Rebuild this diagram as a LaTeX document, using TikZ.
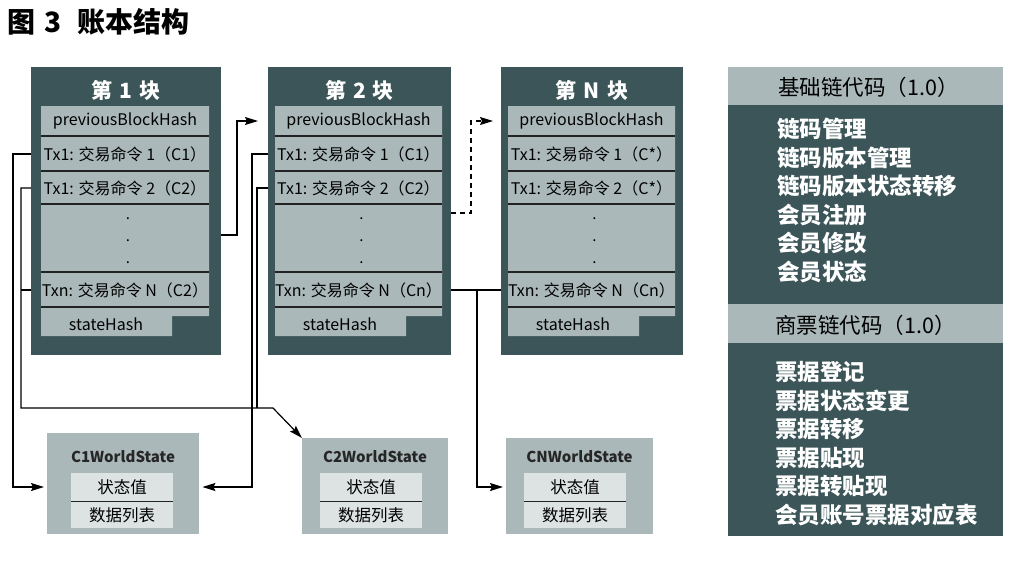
\documentclass[tikz,border=0pt]{standalone}
\usepackage{fontspec}
\setmainfont{Noto Sans CJK SC}
\usetikzlibrary{arrows.meta}
\definecolor{dkc}{HTML}{3C5558}
\definecolor{ltc}{HTML}{AAB8B9}
\definecolor{wsin}{HTML}{DDE2E2}
\definecolor{sepc}{HTML}{222222}
\tikzset{
  blk/.style={fill=dkc, draw=none, inner sep=0pt},
  blktitle/.style={text=white, inner sep=0pt, font=\bfseries\fontsize{21}{25}\selectfont},
  rowt/.style={text=black, inner sep=0pt, font=\fontsize{16}{19}\selectfont},
  dotn/.style={text=black, inner sep=0pt, font=\fontsize{15}{18}\selectfont},
  sep/.style={draw=sepc, line width=1.3pt},
  wsbg/.style={fill=ltc, draw=none, inner sep=0pt},
  wst/.style={text=black!85, inner sep=0pt, font=\bfseries\fontsize{15}{18}\selectfont},
  wsr/.style={text=black, inner sep=0pt, font=\fontsize{16.5}{19}\selectfont},
  hdr/.style={text=black, inner sep=0pt, font=\fontsize{21.5}{25}\selectfont},
  item/.style={text=white, inner sep=0pt, font=\bfseries\fontsize{22.5}{26}\selectfont},
  conn/.style={draw=black, line width=1.2pt},
  arr/.style={-{Stealth[length=13pt,width=8pt,inset=2pt]}},
}
\newcommand{\ledgerblock}[9]{%
  \node[blk, minimum width={#3-#2}, minimum height=288, anchor=north west] (#1) at (#2,67) {};
  \node[blktitle] (#1h) at ({(#2+#3)/2},90) {#6};
  \fill[ltc] (#4,106) -- (#5,106) -- (#5,316) -- ({#4+131},316) -- ({#4+131},336) -- (#4,336) -- cycle;
  \foreach \yy in {136,171,204,272,307} {\draw[sep] (#4,\yy) -- (#5,\yy);}
  \node[rowt] (#1p) at ({(#4+#5)/2},121) {previousBlockHash};
  \node[rowt] (#1a) at ({(#4+#5)/2},154) {#7};
  \node[rowt] (#1b) at ({(#4+#5)/2},188) {#8};
  \node[dotn] (#1d1) at ({(#4+#5)/2+3},219) {.};
  \node[dotn] (#1d2) at ({(#4+#5)/2+3},241) {.};
  \node[dotn] (#1d3) at ({(#4+#5)/2+3},263) {.};
  \node[rowt] (#1n) at ({(#4+#5)/2},290) {#9};
  \node[rowt] (#1s) at ({#4+65},324) {stateHash};
}
\newcommand{\worldbox}[7]{%
  \node[wsbg, minimum width={#4-#2}, minimum height={534-#3}, anchor=north west] (#1) at (#2,#3) {};
  \node[wst] (#1t) at ({(#2+#4)/2},457) {#7};
  \fill[wsin] (#5,473) rectangle (#6,528);
  \draw[sep] (#5,501.5) -- (#6,501.5);
  \node[wsr] (#1v) at ({(#5+#6)/2},487) {状态值};
  \node[wsr] (#1d) at ({(#5+#6)/2},515) {数据列表};
}
\begin{document}
\begin{tikzpicture}[x=1pt,y=-1pt]
\useasboundingbox (0,0) rectangle (1023,560);
\fill[white] (0,0) rectangle (1023,560);

\node[anchor=west, inner sep=0pt, font=\bfseries\fontsize{28}{32}\selectfont] (ttl) at (7,22) {图\hspace{9pt}3\hspace{16pt}账本结构};

\ledgerblock{b1}{31}{221}{41}{209}{第\hspace{7pt}1\hspace{7pt}块}{Tx1: 交易命令 1（C1）}{Tx1: 交易命令 2（C2）}{Txn: 交易命令 N（C2）}
\ledgerblock{b2}{268}{451}{275}{442}{第\hspace{7pt}2\hspace{7pt}块}{Tx1: 交易命令 1（C1）}{Tx1: 交易命令 2（C2）}{Txn: 交易命令 N（Cn）}
\ledgerblock{bN}{501}{683}{508}{675}{第\hspace{7pt}N\hspace{7pt}块}{Tx1: 交易命令 1（C*）}{Tx1: 交易命令 2（C*）}{Txn: 交易命令 N（Cn）}

\worldbox{ws1}{47}{433}{199}{71}{173}{C1WorldState}
\worldbox{ws2}{302}{438}{448}{320}{422}{C2WorldState}
\worldbox{wsN}{506}{438}{653}{524}{626}{CNWorldState}

% right panel
\node[fill=ltc, inner sep=0pt, minimum width=275, minimum height=38, anchor=north west] (h1) at (728,67) {};
\node[fill=dkc, inner sep=0pt, minimum width=275, minimum height=199, anchor=north west] (p1) at (728,105) {};
\node[fill=ltc, inner sep=0pt, minimum width=275, minimum height=39, anchor=north west] (h2) at (728,304) {};
\node[fill=dkc, inner sep=0pt, minimum width=275, minimum height=193, anchor=north west] (p2) at (728,343) {};
\node[hdr, anchor=west] (h1t) at (778,87) {基础链代码（1.0）};
\node[hdr, anchor=west] (h2t) at (775,325) {商票链代码（1.0）};
\foreach \t [count=\i] in {链码管理,链码版本管理,链码版本状态转移,会员注册,会员修改,会员状态}
  {\node[item, anchor=west] (ga\i) at (777,{129+28.6*(\i-1)}) {\t};}
\foreach \t [count=\i] in {票据登记,票据状态变更,票据转移,票据贴现,票据转贴现,会员账号票据对应表}
  {\node[item, anchor=west] (gb\i) at (775,{372+28.6*(\i-1)}) {\t};}

% lanes and junctions
\coordinate (L1) at (13,0);
\coordinate (L2) at (21,0);
\coordinate (L3) at (237,0);
\coordinate (L4) at (252,0);
\coordinate (L5) at (257,0);
\coordinate (L6) at (477,0);
\coordinate (L7) at (471,0);
\coordinate (J12) at (0,235);
\coordinate (J2N) at (0,213);
\coordinate (BUS) at (273,408);

% connectors
\draw[conn,arr,shorten >=3pt] (b1.west |- b1a) -| (L1 |- ws1v) -- (ws1.west |- ws1v);
\draw[conn,arr] (b1.west |- b1b) -| (L2 |- BUS) -- (BUS) -- (ws2.north west);
\draw[conn] (b1.west |- b1n) -- (L2 |- b1n);
\draw[conn,arr,shorten >=10pt] (b1.east |- J12) -| (L3 |- b2p) -- (b2.west |- b2p);
\draw[conn,arr,shorten >=3pt] (b2.west |- b2a) -| (L4 |- ws1v) -- (ws1.east |- ws1v);
\draw[conn] (b2.west |- b2b) -| (L5 |- BUS);
\draw[conn] (b2.east |- b2n) -- (bN.west |- bNn);
\draw[conn,arr,shorten >=3pt] (L6 |- b2n) -- (L6 |- wsNv) -- (wsN.west |- wsNv);
\draw[conn,arr,dash pattern=on 5pt off 4pt,shorten >=8pt] (b2.east |- J2N) -| (L7 |- bNp) -- (bN.west |- bNp);
\end{tikzpicture}
\end{document}
